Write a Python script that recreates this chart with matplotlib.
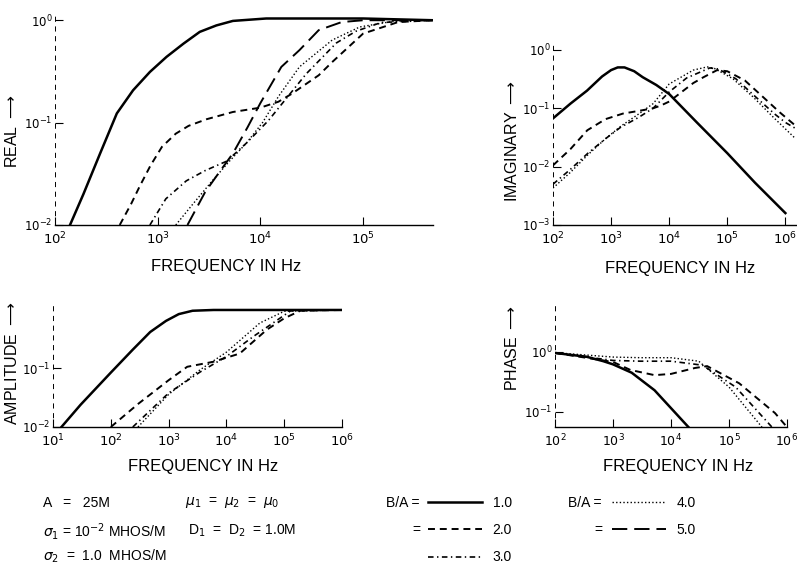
import numpy as np
import matplotlib
matplotlib.use("Agg")
import matplotlib.pyplot as plt
from matplotlib.lines import Line2D

plt.rcParams['font.family'] = ['Liberation Sans', 'DejaVu Sans']
plt.rcParams['lines.scale_dashes'] = False

# %% values (B/A = 1.0 ... 5.0)

# REAL
real_f1 = [140, 189, 275, 400, 576, 841, 1220, 1780, 2570, 3730, 5400, 1.14e4, 1e5, 4.8e5]
real_v1 = [0.01, 0.02, 0.05, 0.123, 0.207, 0.313, 0.439, 0.59, 0.77, 0.89, 0.985, 1.04, 1.04, 1.0]
real_f2 = [427, 550, 670, 850, 1100, 1500, 2000, 3000, 5400, 1e4, 1.5e4, 2e4, 3.7e4, 5e4, 1e5, 2.2e5, 4.8e5]
real_v2 = [0.01, 0.016, 0.024, 0.038, 0.058, 0.078, 0.093, 0.108, 0.127, 0.14, 0.16, 0.19, 0.29, 0.39, 0.74, 0.96, 1.0]
real_f3 = [840, 1200, 1900, 2900, 4700, 7300, 1.2e4, 2.8e4, 5.5e4, 8.5e4, 1.5e5, 4.8e5]
real_v3 = [0.01, 0.018, 0.027, 0.034, 0.042, 0.063, 0.105, 0.3, 0.6, 0.78, 0.95, 1.0]
real_f4 = [1500, 2200, 3400, 5000, 7300, 1.05e4, 1.5e4, 2.4e4, 5e4, 9.3e4, 2e5, 4.8e5]
real_v4 = [0.01, 0.016, 0.027, 0.042, 0.063, 0.1, 0.18, 0.35, 0.64, 0.86, 0.98, 1.0]
real_f5 = [1950, 2900, 4000, 5400, 7500, 1e4, 1.6e4, 2.4e4, 3.7e4, 6.2e4, 1e5, 4.8e5]
real_v5 = [0.01, 0.021, 0.033, 0.05, 0.09, 0.155, 0.35, 0.51, 0.8, 0.96, 1.0, 1.0]

# IMAGINARY
imag_f1 = [100, 200, 385, 700, 1000, 1300, 1700, 2500, 3500, 6000, 1e4, 3e4, 1e5, 3e5, 1e6]
imag_v1 = [0.067, 0.12, 0.2, 0.35, 0.45, 0.5, 0.5, 0.43, 0.34, 0.25, 0.175, 0.057, 0.017, 0.0053, 0.0016]
imag_f2 = [100, 200, 390, 800, 1600, 3000, 5300, 7000, 1e4, 2.6e4, 3.9e4, 6.7e4, 1e5, 2e5, 4e5, 8e5, 1.5e6]
imag_v2 = [0.0105, 0.02, 0.042, 0.065, 0.081, 0.09, 0.1, 0.11, 0.13, 0.27, 0.34, 0.45, 0.43, 0.3, 0.16, 0.085, 0.05]
imag_f3 = [100, 200, 400, 800, 1450, 3000, 5300, 1e4, 2e4, 5e4, 7e4, 1.4e5, 3e5, 6.5e5, 1e6, 1.5e6]
imag_v3 = [0.005, 0.009, 0.017, 0.03, 0.047, 0.07, 0.1, 0.19, 0.33, 0.49, 0.47, 0.32, 0.16, 0.08, 0.057, 0.045]
imag_f4 = [100, 200, 400, 800, 1500, 3000, 5300, 1e4, 2.6e4, 4.5e4, 6e4, 1.25e5, 2.8e5, 6.2e5, 1.5e6]
imag_v4 = [0.0043, 0.008, 0.016, 0.03, 0.05, 0.08, 0.12, 0.26, 0.45, 0.51, 0.48, 0.32, 0.155, 0.07, 0.03]

# AMPLITUDE
amp_f1 = [14, 30, 100, 240, 480, 900, 1500, 2600, 6000, 1e6]
amp_v1 = [0.01, 0.024, 0.085, 0.21, 0.42, 0.65, 0.85, 0.97, 1.0, 1.0]
amp_f2 = [100, 300, 1000, 2100, 5900, 1.7e4, 5e4, 1e5, 1.9e5, 1e6]
amp_v2 = [0.01, 0.025, 0.063, 0.107, 0.13, 0.18, 0.46, 0.72, 0.97, 1.0]
amp_f3 = [240, 1000, 3500, 1e4, 2.9e4, 1.3e5, 1e6]
amp_v3 = [0.01, 0.038, 0.087, 0.16, 0.35, 0.97, 1.0]
amp_f4 = [295, 1000, 3500, 1e4, 3.8e4, 1e5, 1e6]
amp_v4 = [0.01, 0.036, 0.095, 0.19, 0.6, 0.95, 1.0]

# PHASE
ph_f1 = [100, 350, 680, 1000, 2100, 5200, 2e4]
ph_v1 = [0.96, 0.83, 0.7, 0.62, 0.45, 0.23, 0.056]
ph_f2 = [100, 1000, 2000, 5200, 1e4, 2.6e4, 4.2e4, 1.5e5, 6.2e5, 1e6]
ph_v2 = [0.96, 0.68, 0.5, 0.41, 0.43, 0.54, 0.58, 0.3, 0.096, 0.056]
ph_f3 = [100, 1000, 3000, 1e4, 3.5e4, 1.3e5, 5.5e5]
ph_v3 = [0.96, 0.72, 0.7, 0.7, 0.6, 0.26, 0.056]
ph_f4 = [100, 1000, 3000, 1e4, 3e4, 1e5, 3.7e5]
ph_v4 = [0.97, 0.82, 0.8, 0.8, 0.7, 0.26, 0.056]

ba_labels = ["1.0", "2.0", "3.0", "4.0", "5.0"]

# line styles for B/A = 1..5
styles = [dict(ls="-", lw=1.8),
          dict(ls=(0, (5, 3.5)), lw=1.4),
          dict(ls=(0, (4, 2.5, 1, 2.5)), lw=1.2),
          dict(ls=(0, (1, 1.6)), lw=1.0),
          dict(ls=(0, (11, 5)), lw=1.4)]

W, H = 797, 567
fig = plt.figure(figsize=(W / 100, H / 100), dpi=100)


def add_ax(l, r, t, b):
    return fig.add_axes([l / W, 1 - b / H, (r - l) / W, (b - t) / H])


def style_ax(ax, xt, yt):
    ax.set_xscale("log")
    ax.set_yscale("log")
    ax.minorticks_off()
    ax.set_xticks([10.0 ** e for e in xt], ["$10^{%d}$" % e for e in xt])
    ax.set_yticks([10.0 ** e for e in yt], ["$10^{%d}$" % e for e in yt])
    ax.tick_params(direction="in", length=6, width=0.8, labelsize=9.5, pad=4)
    ax.tick_params(axis="y", labelsize=8.5, pad=2)
    ax.spines["top"].set_visible(False)
    ax.spines["right"].set_visible(False)
    ax.spines["bottom"].set_linewidth(1.0)
    ax.spines["left"].set_linewidth(0.7)
    ax.spines["left"].set_linestyle((0, (3, 4)))


ax1 = add_ax(55, 433, 16, 225)
for f, v, s in zip([real_f1, real_f2, real_f3, real_f4, real_f5],
                   [real_v1, real_v2, real_v3, real_v4, real_v5], styles):
    ax1.plot(f, v, color="k", **s)
style_ax(ax1, [2, 3, 4, 5], [0, -1, -2])
ax1.set_xlim(1e2, 4.8e5)
ax1.set_ylim(0.01, 1.1)

ax2 = add_ax(553, 797, 44, 225)
for f, v, s in zip([imag_f1, imag_f2, imag_f3, imag_f4],
                   [imag_v1, imag_v2, imag_v3, imag_v4], styles):
    ax2.plot(f, v, color="k", **s)
style_ax(ax2, [2, 3, 4, 5, 6], [0, -1, -2, -3])
ax2.set_xlim(1e2, 10 ** 6.2)
ax2.set_ylim(1e-3, 10 ** 0.1)

ax3 = add_ax(53, 342, 305, 427)
for f, v, s in zip([amp_f1, amp_f2, amp_f3, amp_f4],
                   [amp_v1, amp_v2, amp_v3, amp_v4], styles):
    ax3.plot(f, v, color="k", **s)
style_ax(ax3, [1, 2, 3, 4, 5, 6], [-1, -2])
ax3.set_xlim(1e1, 1e6)
ax3.set_ylim(0.01, 10 ** 0.085)

ax4 = add_ax(555, 787, 302, 427)
for f, v, s in zip([ph_f1, ph_f2, ph_f3, ph_f4],
                   [ph_v1, ph_v2, ph_v3, ph_v4], styles):
    ax4.plot(f, v, color="k", **s)
style_ax(ax4, [2, 3, 4, 5, 6], [0, -1])
ax4.tick_params(axis="x", labelsize=9)
ax4.set_xlim(1e2, 1e6)
ax4.set_ylim(10 ** -1.25, 10 ** 0.83)

# axis titles
arrow = r" $\longrightarrow$"
fig.text(12 / W, 1 - 131 / H, "REAL" + arrow, rotation=90, ha="center", va="center", fontsize=11.5)
fig.text(512 / W, 1 - 141 / H, "IMAGINARY" + arrow, rotation=90, ha="center", va="center", fontsize=11.5)
fig.text(12 / W, 1 - 363 / H, "AMPLITUDE" + arrow, rotation=90, ha="center", va="center", fontsize=11.5)
fig.text(512 / W, 1 - 348 / H, "PHASE" + arrow, rotation=90, ha="center", va="center", fontsize=11.5)
for x, y in [(226, 267), (680, 268), (203, 467), (678, 467)]:
    fig.text(x / W, 1 - y / H, "FREQUENCY IN Hz", ha="center", va="center", fontsize=12)

# parameters
fs = 10
fig.text(43 / W, 1 - 503 / H, "A   =   25M", va="center", fontsize=fs)
fig.text(43 / W, 1 - 531 / H, r"$\sigma_1$ = 10$^{-2}$ MHOS/M", va="center", fontsize=fs)
fig.text(43 / W, 1 - 556 / H, r"$\sigma_2$  =  1.0  MHOS/M", va="center", fontsize=fs)
fig.text(185 / W, 1 - 503 / H, r"$\mu_1$  =  $\mu_2$  =  $\mu_0$", va="center", fontsize=fs)
fig.text(188 / W, 1 - 531 / H, r"D$_1$  =  D$_2$  = 1.0M", va="center", fontsize=fs)

# B/A key
fig.text(420 / W, 1 - 503 / H, "B/A =", ha="right", va="center", fontsize=fs)
fig.text(420 / W, 1 - 530 / H, "=", ha="right", va="center", fontsize=fs)
fig.text(602 / W, 1 - 503 / H, "B/A =", ha="right", va="center", fontsize=fs)
fig.text(602 / W, 1 - 530 / H, "=", ha="right", va="center", fontsize=fs)
handles = [Line2D([], [], color="k", **s) for s in styles]
fig.legend(handles, ba_labels, ncol=2, loc="upper left",
           bbox_to_anchor=(428 / W, 1 - 496 / H), frameon=False, fontsize=fs,
           handlelength=3.9, handletextpad=0.75, columnspacing=7.2,
           labelspacing=0.95, borderpad=0, borderaxespad=0)

fig.savefig("out.png", dpi=100)
